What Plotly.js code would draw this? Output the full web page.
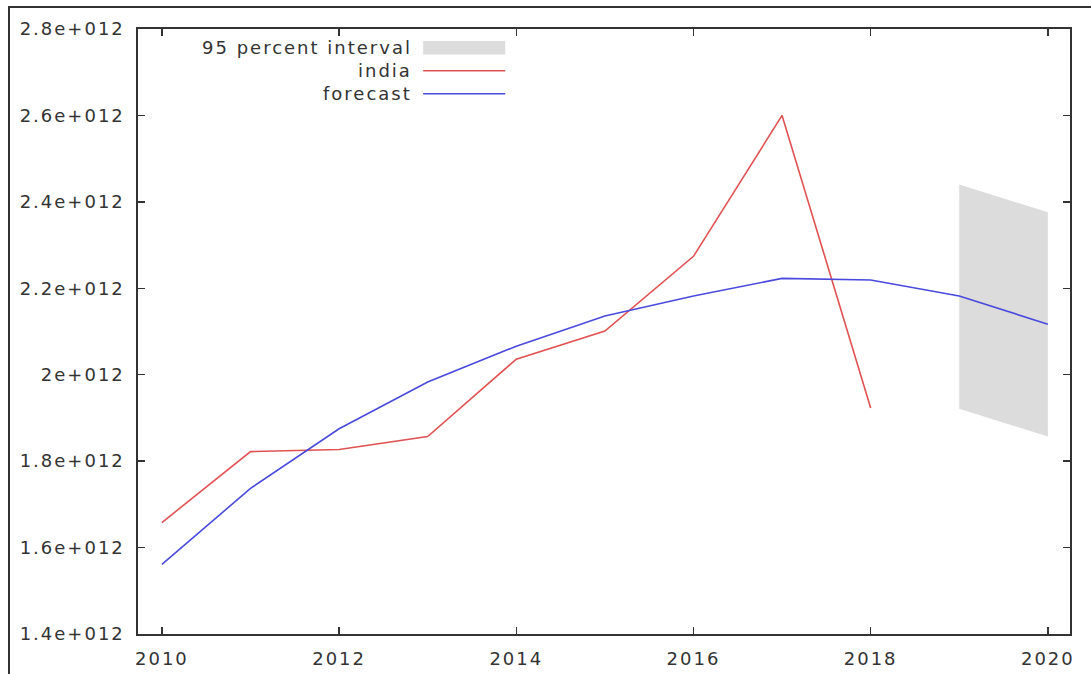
<!DOCTYPE html>
<html>
<head>
<meta charset="utf-8">
<script src="https://cdn.plot.ly/plotly-3.0.1.min.js"></script>
<style>
html,body{margin:0;padding:0;background:#fff;}
#wrap{position:relative;width:1091px;height:674px;}
#chart{width:1091px;height:674px;}
#chart text{letter-spacing:2px;}
#frame{position:absolute;left:8px;top:6px;right:0;bottom:0;border-top:2px solid #333;border-left:2px solid #333;pointer-events:none;}
</style>
</head>
<body>
<div id="wrap"><div id="chart"></div><div id="frame"></div></div>
<script>
// Data
const years = [2010, 2011, 2012, 2013, 2014, 2015, 2016, 2017, 2018];
const india = [1.658e12, 1.822e12, 1.827e12, 1.857e12, 2.036e12, 2.101e12, 2.274e12, 2.600e12, 1.923e12];
const forecastYears = [2010, 2011, 2012, 2013, 2014, 2015, 2016, 2017, 2018, 2019, 2020];
const forecast = [1.561e12, 1.737e12, 1.875e12, 1.983e12, 2.066e12, 2.136e12, 2.182e12, 2.223e12, 2.219e12, 2.182e12, 2.117e12];
const intervalYears = [2019, 2020];
const intervalUpper = [2.440e12, 2.376e12];
const intervalLower = [1.921e12, 1.857e12];
const xTickVals = [2010, 2012, 2014, 2016, 2018, 2020];
const yTickVals = [1.4e12, 1.6e12, 1.8e12, 2.0e12, 2.2e12, 2.4e12, 2.6e12, 2.8e12];
const yTickText = ["1.4e+012", "1.6e+012", "1.8e+012", "2e+012", "2.2e+012", "2.4e+012", "2.6e+012", "2.8e+012"];
const legendLabels = ["95 percent interval", "india", "forecast"];

const RED = '#e05252';
const BLUE = '#4a4adc';
const GREY = '#dcdcdc';
const FONT = {family: 'DejaVu Sans, sans-serif', size: 18, color: '#333'};
const LETTER_SPACING = 2;

const traces = [
  {
    x: intervalYears.concat(intervalYears.slice().reverse()),
    y: intervalUpper.concat(intervalLower.slice().reverse()),
    type: 'scatter', mode: 'lines', fill: 'toself',
    fillcolor: GREY, line: {width: 0, color: GREY},
    name: legendLabels[0], showlegend: false, hoverinfo: 'skip'
  },
  {
    x: years, y: india, type: 'scatter', mode: 'lines',
    line: {color: RED, width: 1.6}, name: legendLabels[1], showlegend: false
  },
  {
    x: forecastYears, y: forecast, type: 'scatter', mode: 'lines',
    line: {color: BLUE, width: 1.6}, name: legendLabels[2], showlegend: false
  }
];

// manual gnuplot-style legend: text right-aligned, sample on the right
const legX0 = 0.306, legX1 = 0.394; // paper coords of sample
const legY = [0.969, 0.931, 0.893];
const annotations = legendLabels.map((t, i) => ({
  xref: 'paper', yref: 'paper', x: 0.294, y: legY[i],
  xanchor: 'right', yanchor: 'middle', text: t, showarrow: false,
  xshift: -(LETTER_SPACING * t.length) / 2 + 2,
  font: FONT
}));
const shapes = [
  {type: 'rect', xref: 'paper', yref: 'paper', x0: legX0, x1: legX1,
   y0: legY[0] - 0.011, y1: legY[0] + 0.011, fillcolor: GREY, line: {width: 0}},
  {type: 'line', xref: 'paper', yref: 'paper', x0: legX0, x1: legX1,
   y0: legY[1], y1: legY[1], line: {color: RED, width: 1.6}},
  {type: 'line', xref: 'paper', yref: 'paper', x0: legX0, x1: legX1,
   y0: legY[2], y1: legY[2], line: {color: BLUE, width: 1.6}}
];

const layout = {
  width: 1091, height: 674,
  margin: {l: 138, r: 21, t: 29, b: 40},
  paper_bgcolor: 'rgba(0,0,0,0)', plot_bgcolor: '#fff',
  font: FONT,
  showlegend: false,
  xaxis: {
    range: [2009.73, 2020.25], tickvals: xTickVals,
    ticks: 'inside', ticklen: 7, tickwidth: 1.5, tickcolor: '#333',
    showline: true, linecolor: '#333', linewidth: 1.6, mirror: 'ticks',
    showgrid: false, zeroline: false, tickfont: FONT, ticklabelstandoff: 8
  },
  yaxis: {
    range: [1.4e12, 2.8e12], tickvals: yTickVals, ticktext: yTickText,
    ticks: 'inside', ticklen: 7, tickwidth: 1.5, tickcolor: '#333',
    showline: true, linecolor: '#333', linewidth: 1.6, mirror: 'ticks',
    showgrid: false, zeroline: false, tickfont: FONT, ticklabelstandoff: 8
  },
  annotations: annotations,
  shapes: shapes
};

Plotly.newPlot('chart', traces, layout, {displayModeBar: false, staticPlot: true});
</script>
</body>
</html>
